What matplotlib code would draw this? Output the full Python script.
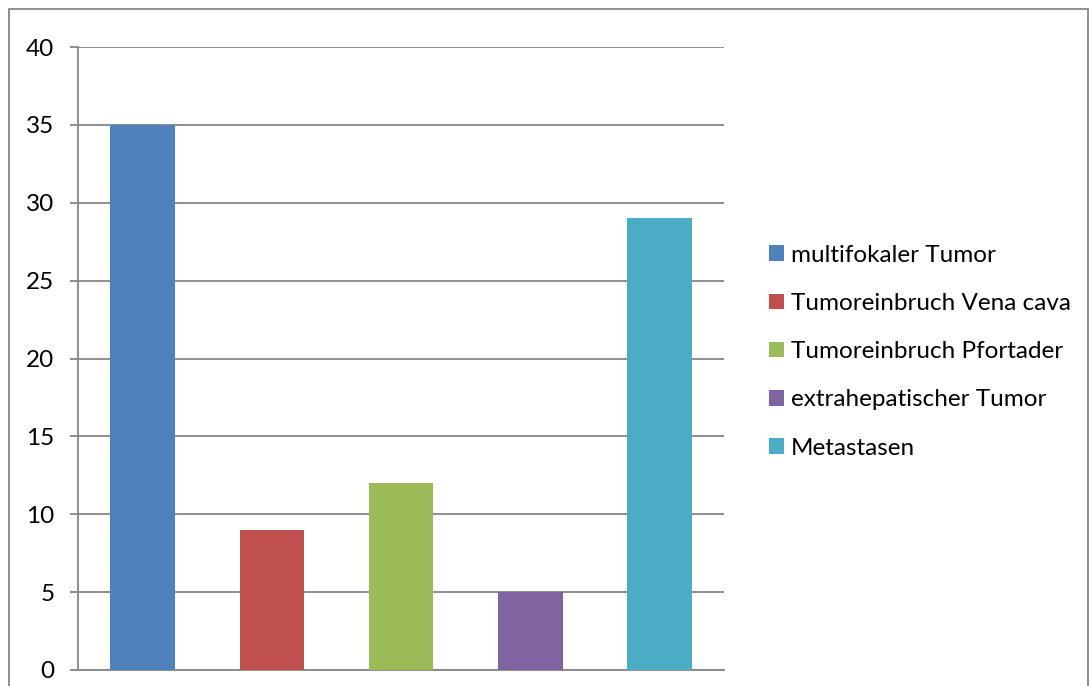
import matplotlib
matplotlib.use("Agg")
import matplotlib.pyplot as plt
from matplotlib.patches import Rectangle

categories = ["multifokaler Tumor", "Tumoreinbruch Vena cava", "Tumoreinbruch Pfortader",
              "extrahepatischer Tumor", "Metastasen"]
values = [35, 9, 12, 5, 29]
colors = ["#4F81BD", "#C0504D", "#9BBB59", "#8064A2", "#4BACC6"]
yticks = [0, 5, 10, 15, 20, 25, 30, 35, 40]

plt.rcParams['font.family'] = ['Lato', 'DejaVu Sans']
W, H = 1090, 686
fig = plt.figure(figsize=(W/100, H/100), dpi=100)
ax = fig.add_axes([78/W, 1 - 670/H, (724-78)/W, (670-47)/H])

for i, (c, v, col) in enumerate(zip(categories, values, colors)):
    ax.bar(i, v, width=0.5, color=col, label=c, zorder=3)

ax.set_xlim(-0.5, len(values) - 0.5)
ax.set_ylim(0, 40)
ax.set_yticks(yticks)
ax.set_xticks([])
ax.grid(axis='y', color='#868686', linewidth=1.3, zorder=0)
for s in ['top', 'right']:
    ax.spines[s].set_visible(False)
for s in ['left', 'bottom']:
    ax.spines[s].set_color('#868686')
    ax.spines[s].set_linewidth(1.3)
ax.tick_params(axis='y', length=6, width=1.3, color='#868686', labelsize=17.5, pad=11)

leg = fig.legend(loc='upper left', bbox_to_anchor=(759/W, 1 - 235/H), frameon=False,
                 fontsize=17.5, handlelength=0.62, handleheight=0.62, handletextpad=0.3,
                 labelspacing=1.12, borderaxespad=0)

fig.patches.append(Rectangle((9/W, -0.05), (1088-9)/W, 1.05 - 9/H, transform=fig.transFigure,
                             fill=False, edgecolor='#868686', linewidth=1.3))

fig.savefig("out.png", dpi=100)
